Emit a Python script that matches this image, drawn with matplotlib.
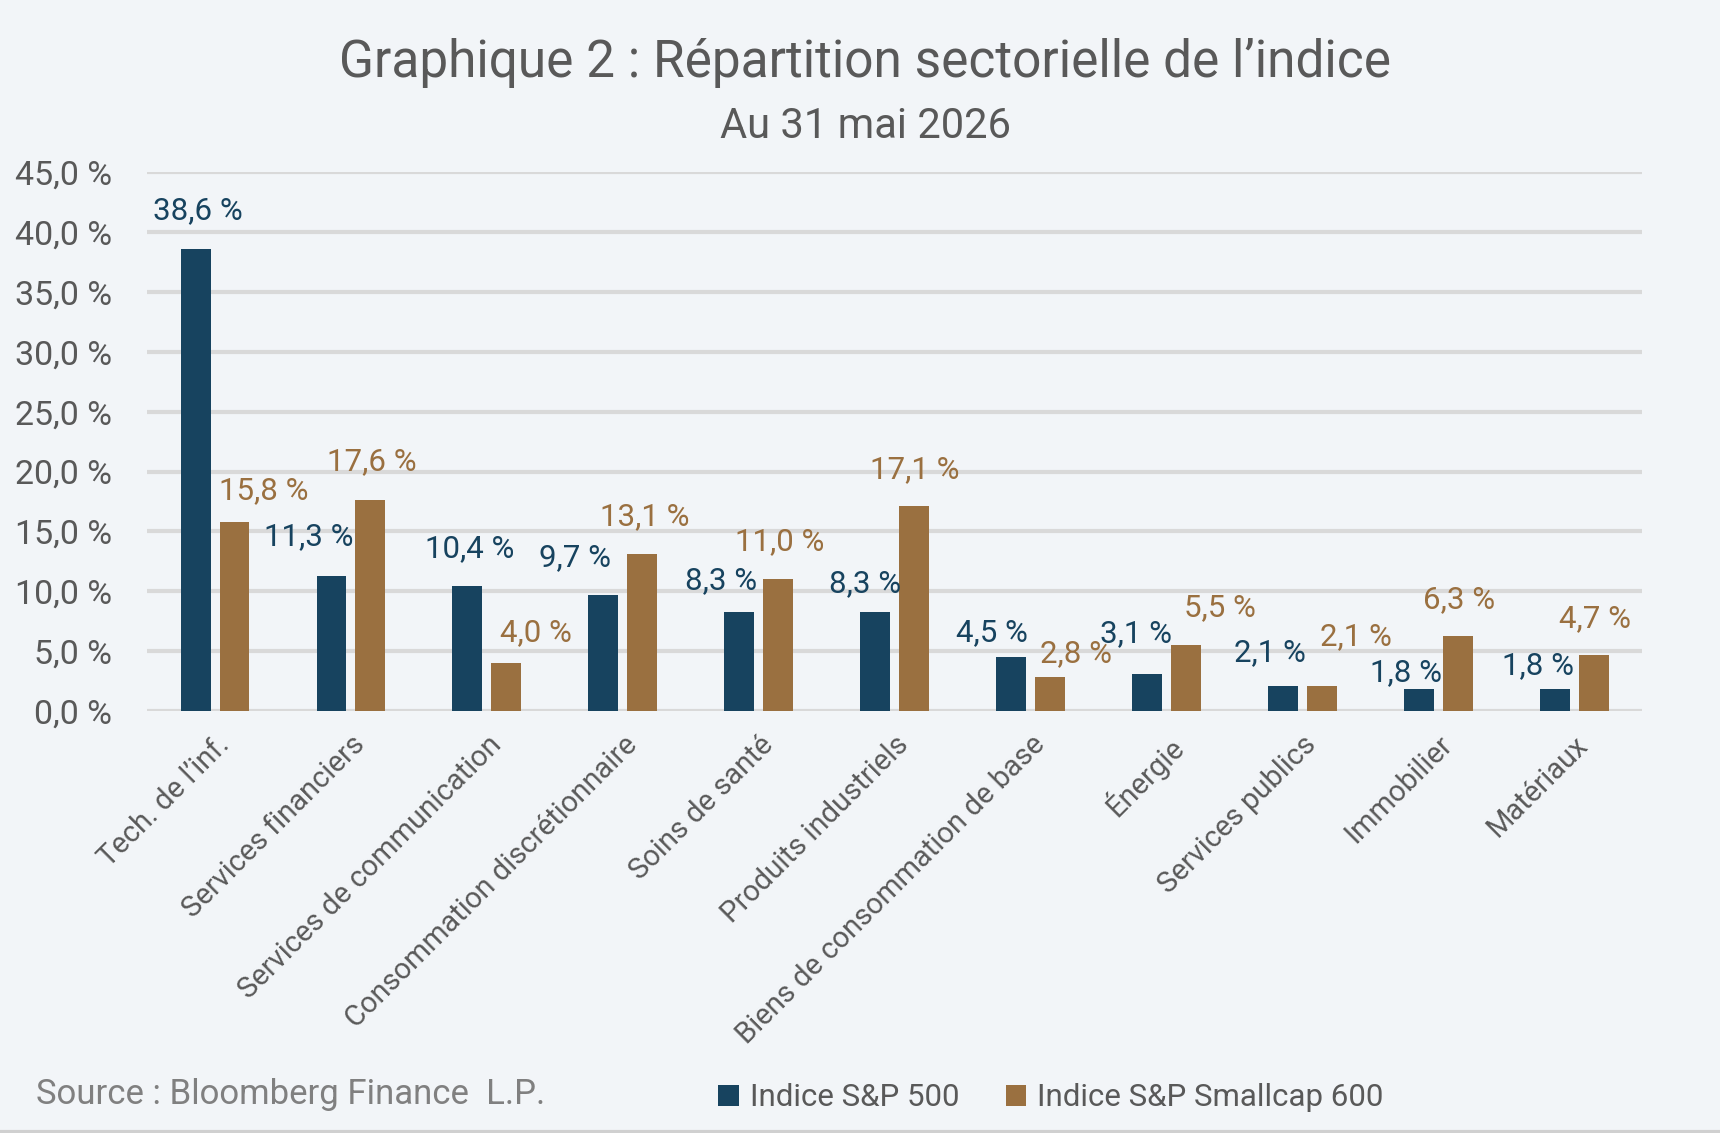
import matplotlib
matplotlib.use("Agg")
import matplotlib.pyplot as plt
import numpy as np

categories = ["Tech. de l\u2019inf.", "Services financiers", "Services de communication",
              "Consommation discr\u00e9tionnaire", "Soins de sant\u00e9", "Produits industriels",
              "Biens de consommation de base", "\u00c9nergie", "Services publics",
              "Immobilier", "Mat\u00e9riaux"]
sp500 = [38.6, 11.3, 10.4, 9.7, 8.3, 8.3, 4.5, 3.1, 2.1, 1.8, 1.8]
sp600 = [15.8, 17.6, 4.0, 13.1, 11.0, 17.1, 2.8, 5.5, 2.1, 6.3, 4.7]
series_names = ["Indice S&P 500", "Indice S&P Smallcap 600"]
yticks = [0, 5, 10, 15, 20, 25, 30, 35, 40, 45]

# label nudges (points) mimicking the reference placement
dx500 = [1.6, -16.6, 1.6, -20.5, -13.4, -7.1, -13.4, -7.9, -9.5, -9.5, -11.9]
dy500 = [27.7, 28.4, 26.9, 26.9, 22.1, 19.8, 17.4, 29.2, 23.7, 11.9, 17.4]
dx600 = [21.3, 0.8, 21.3, 1.6, 0.8, 0.8, 19.0, 24.5, 24.5, 0.8, 0.8]
dy600 = [22.1, 27.7, 22.1, 26.9, 26.9, 26.0, 17.4, 26.9, 35.6, 26.0, 26.0]

BG = "#F2F5F8"
NAVY = "#17435F"
BROWN = "#9A7040"
TXT = "#595959"
FONT = ["Roboto", "DejaVu Sans"]
plt.rcParams["font.family"] = FONT

def fr(v, dec=1):
    return f"{v:.{dec}f}".replace(".", ",") + "\u00a0%"

fig = plt.figure(figsize=(17.2, 11.33), dpi=100, facecolor=BG)
ax = fig.add_axes([0.0855, 0.3725, 0.8692, 0.4755], facecolor=BG)

x = np.arange(len(categories))
w = 0.22
off = 0.143
b1 = ax.bar(x - off, sp500, w, color=NAVY, zorder=3, label=series_names[0])
b2 = ax.bar(x + off, sp600, w, color=BROWN, zorder=3, label=series_names[1])

for i, (r, v) in enumerate(zip(b1, sp500)):
    ax.annotate(fr(v), (r.get_x() + r.get_width() / 2, v), xytext=(dx500[i], dy500[i]),
                textcoords="offset points", ha="center", va="center", fontsize=22.5, color=NAVY)
for i, (r, v) in enumerate(zip(b2, sp600)):
    ax.annotate(fr(v), (r.get_x() + r.get_width() / 2, v), xytext=(dx600[i], dy600[i]),
                textcoords="offset points", ha="center", va="center", fontsize=22.5, color=BROWN)

ax.set_xlim(-0.5, len(categories) - 0.5)
ax.set_ylim(0, 45)
ax.set_yticks(yticks)
ax.set_yticklabels([fr(t) for t in yticks], fontsize=24.5, color=TXT)
ax.yaxis.grid(True, color="#D9D9D9", linewidth=3, zorder=0)
ax.set_axisbelow(True)
for s in ax.spines.values():
    s.set_visible(False)
ax.tick_params(axis="both", length=0)
ax.tick_params(axis="y", pad=25)
ax.set_xticks(x)
ax.set_xticklabels(categories, rotation=45, ha="right", va="top", rotation_mode="anchor",
                   fontsize=21, color=TXT)
ax.tick_params(axis="x", pad=14)

fig.text(0.503, 0.944, "Graphique\u00a02 : R\u00e9partition sectorielle de l\u2019indice",
         ha="center", va="center", fontsize=37, color=TXT)
fig.text(0.503, 0.888, "Au 31 mai 2026", ha="center", va="center", fontsize=30, color=TXT)
fig.text(0.021, 0.034, "Source : Bloomberg Finance  L.P.", ha="left", va="center",
         fontsize=25, color="#808080")

fig.legend(handles=[b1, b2], labels=series_names, loc="center", bbox_to_anchor=(0.611, 0.031),
           ncol=2, frameon=False, fontsize=22.5, handlelength=0.65, handleheight=0.65,
           handletextpad=0.35, columnspacing=1.5, labelcolor=TXT)

fig.add_artist(plt.Line2D([0, 1], [0.001, 0.001], color="#D0D0D0", linewidth=3,
                          transform=fig.transFigure))

fig.savefig("out.png", dpi=100, facecolor=BG)
